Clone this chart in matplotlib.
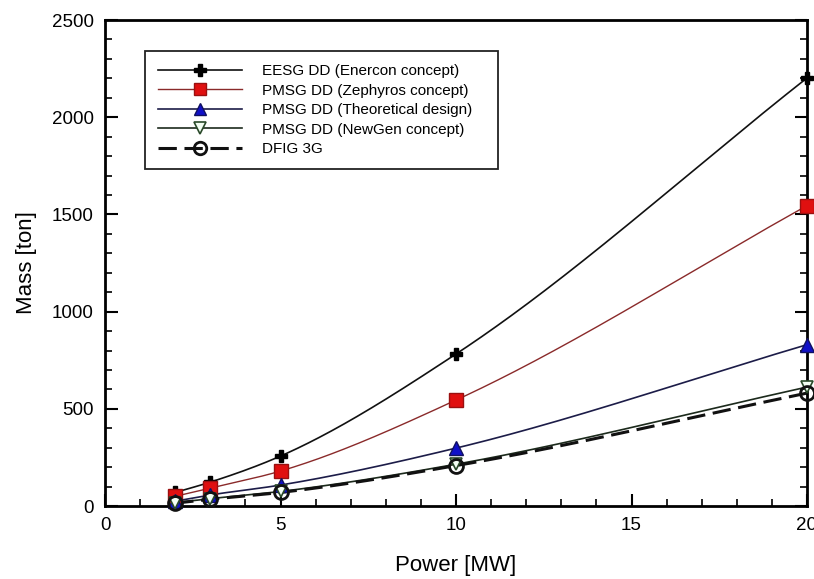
import numpy as np
import matplotlib
matplotlib.use("Agg")
import matplotlib.pyplot as plt
from matplotlib.ticker import MultipleLocator

plt.rcParams['font.family'] = ['Liberation Sans', 'DejaVu Sans']

# Generator rating [MW]
power = [2, 3, 5, 10, 20]

# Generator mass [ton] for each concept
eesg_enercon = [70, 123, 257, 782, 2202]
pmsg_zephyros = [50, 92, 180, 545, 1545]
pmsg_theoretical = [25, 57, 108, 298, 830]
pmsg_newgen = [18, 38, 75, 215, 612]
dfig_3g = [15, 35, 70, 208, 581]

labels = [
    "EESG DD (Enercon concept)",
    "PMSG DD (Zephyros concept)",
    "PMSG DD (Theoretical design)",
    "PMSG DD (NewGen concept)",
    "DFIG 3G",
]


def pchip(x, y, xs):
    """Monotone cubic Hermite curve through the given points."""
    x = np.asarray(x, float)
    y = np.asarray(y, float)
    h = np.diff(x)
    d = np.diff(y) / h
    m = np.zeros_like(y)
    for k in range(1, len(x) - 1):
        if d[k - 1] * d[k] > 0:
            w1 = 2 * h[k] + h[k - 1]
            w2 = h[k] + 2 * h[k - 1]
            m[k] = (w1 + w2) / (w1 / d[k - 1] + w2 / d[k])
    m[0] = d[0]
    m[-1] = d[-1]
    idx = np.clip(np.searchsorted(x, xs) - 1, 0, len(x) - 2)
    t = (xs - x[idx]) / h[idx]
    h00 = 2 * t**3 - 3 * t**2 + 1
    h10 = t**3 - 2 * t**2 + t
    h01 = -2 * t**3 + 3 * t**2
    h11 = t**3 - t**2
    return (h00 * y[idx] + h10 * h[idx] * m[idx]
            + h01 * y[idx + 1] + h11 * h[idx] * m[idx + 1])


fig = plt.figure(figsize=(8.14, 5.79), dpi=100)
ax = fig.add_axes([0.129, 0.126, 0.8624, 0.8394])

styles = [
    dict(data=eesg_enercon, color="#111111", ls="-", lw=1.2,
         marker="P", ms=9, mfc="black", mec="black", mew=1.0),
    dict(data=pmsg_zephyros, color="#8a2a2a", ls="-", lw=1.0,
         marker="s", ms=10, mfc="#e01010", mec="#9a1010", mew=1.0),
    dict(data=pmsg_theoretical, color="#1c1c48", ls="-", lw=1.2,
         marker="^", ms=10, mfc="#1010c8", mec="#101060", mew=1.0),
    dict(data=pmsg_newgen, color="#1c2a1c", ls="-", lw=1.2,
         marker="v", ms=9, mfc="#f4fff4", mec="#2a4a2a", mew=1.2),
    dict(data=dfig_3g, color="#111111", ls=(0, (6, 2.5)), lw=2.2,
         marker="o", ms=10, mfc="none", mec="#111111", mew=2.0),
]

xs = np.linspace(power[0], power[-1], 300)
handles = []
for st, lab in zip(styles, labels):
    ys = pchip(power, st["data"], xs)
    ax.plot(xs, ys, color=st["color"], ls=st["ls"], lw=st["lw"], zorder=2)
    ax.plot(power, st["data"], ls="none", marker=st["marker"], ms=st["ms"],
            mfc=st["mfc"], mec=st["mec"], mew=st["mew"], zorder=3,
            clip_on=False)
    h, = ax.plot([], [], color=st["color"], ls=st["ls"], lw=st["lw"],
                 marker=st["marker"], ms=st["ms"] * 0.9, mfc=st["mfc"],
                 mec=st["mec"], mew=st["mew"])
    handles.append(h)

ax.set_xlim(0, 20)
ax.set_ylim(0, 2500)
ax.xaxis.set_major_locator(MultipleLocator(5))
ax.xaxis.set_minor_locator(MultipleLocator(1))
ax.yaxis.set_major_locator(MultipleLocator(500))
ax.yaxis.set_minor_locator(MultipleLocator(100))

for sp in ax.spines.values():
    sp.set_linewidth(2.0)
ax.tick_params(which="both", direction="in", top=False, right=True,
               width=1.5, labelsize=13.5, pad=8)
ax.tick_params(which="major", length=9)
ax.tick_params(which="minor", length=5, width=1.2)

ax.set_xlabel("Power [MW]", fontsize=16, labelpad=15)
ax.set_ylabel("Mass [ton]", fontsize=16, labelpad=11)

leg = ax.legend(handles, labels, loc="upper left",
                bbox_to_anchor=(0.057, 0.675, 0.503, 0.261), mode="expand",
                fontsize=11, frameon=True, fancybox=False, framealpha=1,
                edgecolor="#222222", handlelength=5.5, handletextpad=1.3,
                labelspacing=0.36, borderpad=0.85, borderaxespad=0)
leg.get_frame().set_linewidth(1.3)

fig.savefig("out.png", dpi=100)
